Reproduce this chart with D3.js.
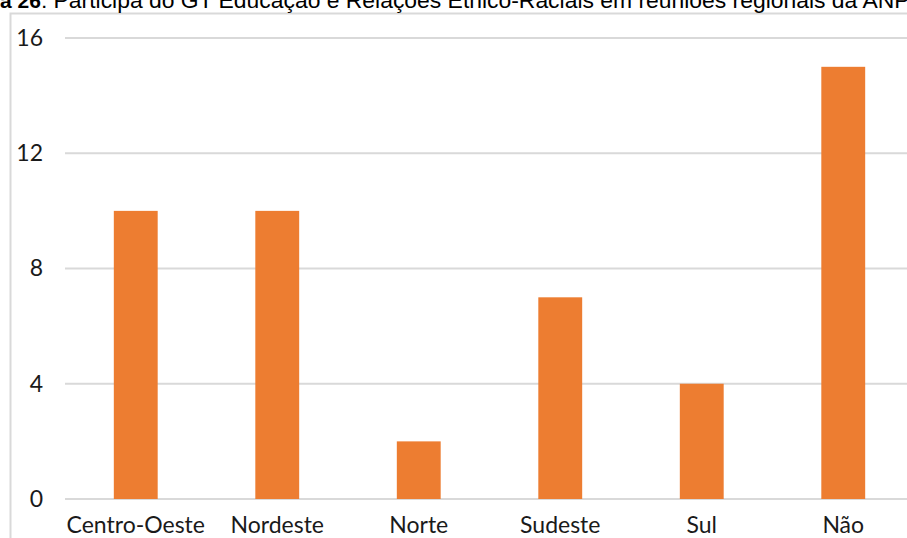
<!DOCTYPE html>
<html>
<head>
<meta charset="utf-8">
<script src="https://cdn.jsdelivr.net/npm/d3@7"></script>
<style>
  html, body { margin: 0; padding: 0; background: #fff; overflow: hidden; }
  svg { display: block; }
</style>
</head>
<body>
<svg id="chart" width="907" height="538"></svg>
<script>
// Participation by region
const categories = ["Centro-Oeste", "Nordeste", "Norte", "Sudeste", "Sul", "Não"];
const values = [10, 10, 2, 7, 4, 15];
const yTicks = [0, 4, 8, 12, 16];
const titleLead = "Figura 26";
const titleRest = ": Participa do GT Educação e Relações Étnico-Raciais em reuniões regionais da ANPEd";

const svg = d3.select("#chart");

// Chart frame (extends beyond the visible area)
svg.append("rect")
  .attr("x", 10.5).attr("y", 13.5)
  .attr("width", 1000).attr("height", 600)
  .attr("fill", "#fff")
  .attr("stroke", "#d9d9d9").attr("stroke-width", 2);

// Caption above the frame, cropped by the page edges
const title = svg.append("text")
  .attr("y", 8)
  .attr("font-family", "'Liberation Sans', Arial, sans-serif")
  .attr("fill", "#000");
title.append("tspan").attr("font-weight", "bold").attr("font-size", 21).text(titleLead);
title.append("tspan").attr("font-size", 22.9).text(titleRest);
// shift so that "a 26" begins at the left edge
const probe = svg.append("text")
  .attr("font-family", "'Liberation Sans', Arial, sans-serif")
  .attr("font-size", 21).attr("font-weight", "bold")
  .text("Figur");
const hidden = probe.node().getComputedTextLength();
probe.remove();
title.attr("x", -hidden);

const x = d3.scaleBand()
  .domain(categories)
  .range([65, 914])
  .paddingInner(0.69)
  .paddingOuter(0.345);

const y = d3.scaleLinear()
  .domain([0, 16])
  .range([499, 38]);

// Horizontal gridlines
svg.append("g")
  .selectAll("line")
  .data(yTicks)
  .join("line")
  .attr("x1", 65).attr("x2", 920)
  .attr("y1", d => y(d)).attr("y2", d => y(d))
  .attr("stroke", "#d9d9d9").attr("stroke-width", 2);

// Y axis labels
const yAxis = d3.axisLeft(y).tickValues(yTicks).tickSize(0).tickPadding(0);
svg.append("g")
  .attr("transform", "translate(43,0)")
  .call(yAxis)
  .call(g => g.select(".domain").remove())
  .call(g => g.selectAll("text")
    .attr("font-family", "Lato, 'Open Sans', sans-serif")
    .attr("font-size", 23)
    .attr("fill", "#1a1a1a"));

// Bars
svg.append("g")
  .selectAll("rect")
  .data(categories.map((c, i) => ({ c, v: values[i] })))
  .join("rect")
  .attr("x", d => x(d.c))
  .attr("y", d => y(d.v))
  .attr("width", x.bandwidth())
  .attr("height", d => y(0) - y(d.v))
  .attr("fill", "#ED7D31");

// X axis labels
const xAxis = d3.axisBottom(x).tickSize(0).tickPadding(0);
svg.append("g")
  .attr("transform", "translate(0,517)")
  .call(xAxis)
  .call(g => g.select(".domain").remove())
  .call(g => g.selectAll("text")
    .attr("dy", "0.71em")
    .attr("font-family", "Lato, 'Open Sans', sans-serif")
    .attr("font-size", 23)
    .attr("fill", "#1a1a1a"));
</script>
</body>
</html>
